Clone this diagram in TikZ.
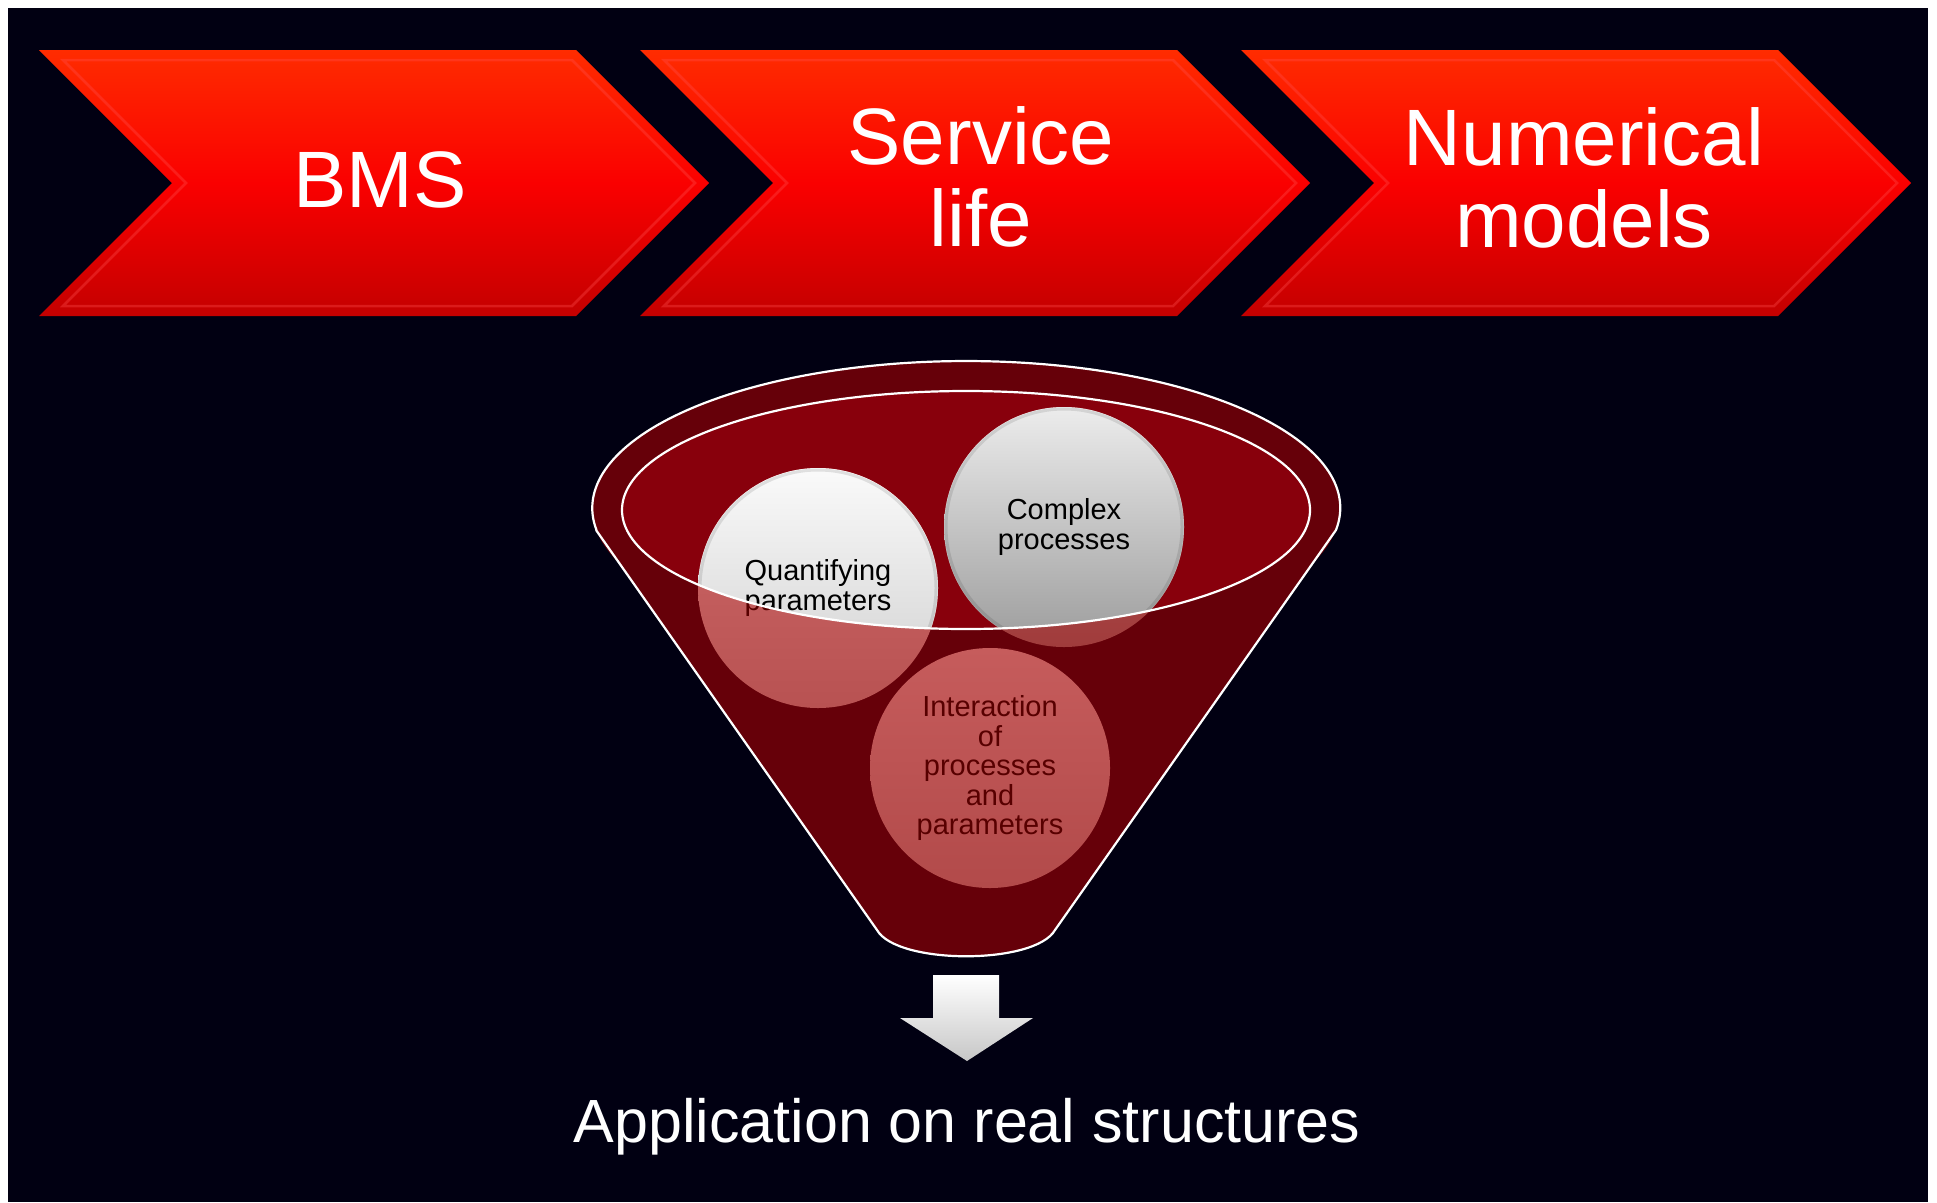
\documentclass[tikz,border=0pt]{standalone}
\usepackage{fontspec}
\setmainfont{Liberation Sans}
\definecolor{bgc}{RGB}{1,0,18}
\definecolor{chtop}{RGB}{255,44,0}
\definecolor{chmid}{RGB}{250,0,0}
\definecolor{chbot}{RGB}{196,0,0}
\definecolor{chbevel}{RGB}{255,80,80}
\definecolor{conec}{RGB}{102,0,9}
\definecolor{inellc}{RGB}{136,0,12}
\definecolor{qtop}{RGB}{250,250,250}
\definecolor{qbot}{RGB}{206,206,206}
\definecolor{ctop}{RGB}{236,236,236}
\definecolor{cbot}{RGB}{156,156,156}
\definecolor{qttop}{RGB}{206,104,104}
\definecolor{qtbot}{RGB}{184,82,82}
\definecolor{cttop}{RGB}{190,84,84}
\definecolor{ctbot}{RGB}{160,60,60}
\definecolor{ittop}{RGB}{198,92,92}
\definecolor{itbot}{RGB}{178,74,74}
\definecolor{tintext}{RGB}{88,0,0}
\begin{document}
\begin{tikzpicture}[x=1pt,y=-1pt,
  chevtext/.style={text=white,font=\fontsize{80}{82}\selectfont,align=center,inner sep=0pt},
  circtext/.style={font=\fontsize{29}{29.5}\selectfont,align=center,inner sep=0pt},
  bevelline/.style={draw=chbevel,draw opacity=0.35,line width=2.5pt,line join=miter},
  whiteline/.style={draw=white,line width=2.2pt},
  ringedge/.style={draw=black,draw opacity=0.1,line width=3pt}]
\useasboundingbox (0,0) rectangle (1937,1202);
\fill[white] (0,0) rectangle (1937,1202);
\fill[bgc] (8,8) rectangle (1928,1202);
% chevrons
\foreach \L in {39,640,1241}{
  \shade[top color=chtop,bottom color=chbot,middle color=chmid]
    (\L,50) -- ++(537,0) -- ++(133,133) -- ++(-133,133) -- ++(-537,0) -- ++(133,-133) -- cycle;
  \draw[bevelline] (\L+24,60) -- (\L+533,60) -- (\L+656,183) -- (\L+533,306) -- (\L+24,306) -- (\L+147,183) -- cycle;
}
\node[chevtext,anchor=base] (bms) at (380,207) {BMS};
\node[chevtext] (serv) at (981,177) {Service\\life};
\node[chevtext] (num) at (1584,178) {Numerical\\models};
% funnel body
\fill[conec] (966,508) ellipse[x radius=374,y radius=147];
\fill[conec] (596,530) -- (877,930) .. controls (897,965) and (1035,965) .. (1055,930) -- (1336,530) -- cycle;
\fill[inellc] (966,510) ellipse[x radius=344,y radius=119];
% tinted circles (seen through the funnel)
\shade[top color=qttop,bottom color=qtbot] (818,588) circle[radius=120];
\shade[top color=cttop,bottom color=ctbot] (1064,527) circle[radius=120];
\shade[top color=ittop,bottom color=itbot] (990,768) circle[radius=120];
\node[circtext,text=tintext] (qtt) at (818,588) {Quantifying\\parameters};
\node[circtext,text=tintext] (inter) at (990,768) {Interaction\\of\\processes\\and\\parameters};
% circles inside the open mouth
\begin{scope}
  \clip (966,510) ellipse[x radius=344,y radius=119];
  \shade[top color=qtop,bottom color=qbot] (818,588) circle[radius=120];
  \draw[ringedge] (818,588) circle[radius=118];
  \shade[top color=ctop,bottom color=cbot] (1064,527) circle[radius=120];
  \draw[ringedge] (1064,527) circle[radius=118];
  \node[circtext,text=black] (quant) at (818,588) {Quantifying\\parameters};
  \node[circtext,text=black] (compl) at (1064,527) {Complex\\processes};
\end{scope}
\draw[whiteline] (966,510) ellipse[x radius=344,y radius=119];
\draw[whiteline,line join=round] (596,530) -- (877,930) .. controls (897,965) and (1035,965) .. (1055,930) -- (1336,530)
   arc[start angle=8.6,end angle=-188.6,x radius=374,y radius=147];
% arrow
\shade[top color=white,bottom color=black!22] (933,975) -- (999,975) -- (999,1018) -- (1033,1018) -- (967,1061) -- (900,1018) -- (933,1018) -- cycle;
\node[anchor=base,text=white,font=\fontsize{61}{63}\selectfont,inner sep=0pt] (app) at (967,1142) {Application on real structures};
\end{tikzpicture}
\end{document}
